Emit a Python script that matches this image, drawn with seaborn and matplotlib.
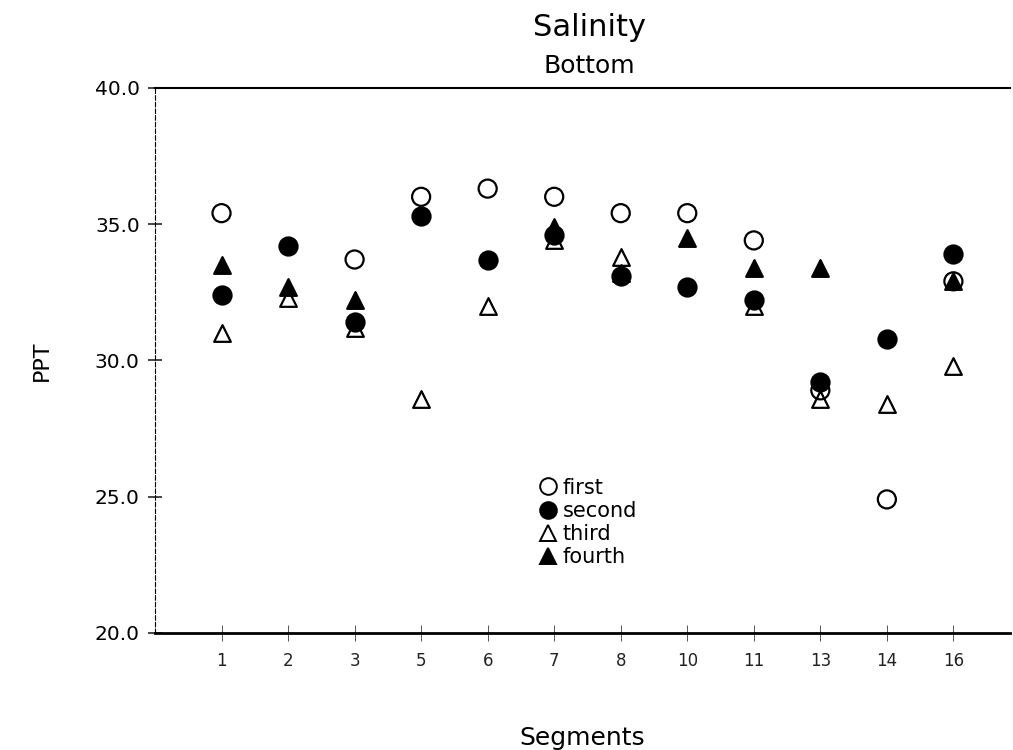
import numpy as np
import pandas as pd
import seaborn as sns
import matplotlib
matplotlib.use("Agg")
import matplotlib.pyplot as plt
from matplotlib.lines import Line2D

# -----------------------------
# data
# -----------------------------
segments = ["1", "2", "3", "5", "6", "7", "8", "10", "11", "13", "14", "16"]
first = [35.4, np.nan, 33.7, 36.0, 36.3, 36.0, 35.4, 35.4, 34.4, 28.9, 24.9, 32.9]
second = [32.4, 34.2, 31.4, 35.3, 33.7, 34.6, 33.1, 32.7, 32.2, 29.2, 30.8, 33.9]
third = [31.0, 32.3, 31.2, 28.6, 32.0, 34.4, 33.8, np.nan, 32.0, 28.6, 28.4, 29.8]
fourth = [33.5, 32.7, 32.2, np.nan, np.nan, 34.9, 33.2, 34.5, 33.4, 33.4, np.nan, 32.9]
series_names = ["first", "second", "third", "fourth"]

df = pd.DataFrame({"Segment": segments, "first": first, "second": second,
                   "third": third, "fourth": fourth})

sns.set_style("white")
plt.rcParams["font.family"] = ["DejaVu Sans"]
plt.rcParams["text.color"] = "black"

fig = plt.figure(figsize=(10.13, 7.5), dpi=100)
ax = fig.add_axes([0.153, 0.156, 0.844, 0.727])

# marker styles per series: (marker, face, size)
styles = {
    "third": ("^", "white", 12),
    "second": ("o", "black", 13),
    "fourth": ("^", "black", 12),
    "first": ("o", "none", 13),
}

for name in ["third", "second", "fourth", "first"]:
    mk, face, sz = styles[name]
    sns.stripplot(data=df, x="Segment", y=name, order=segments, jitter=False,
                  marker=mk, color=face, edgecolor="black", linewidth=1.6,
                  size=sz, ax=ax, zorder=3)

ax.set_ylim(20, 40)
ax.set_xlim(-1, 11.85)
ax.set_yticks([20, 25, 30, 35, 40])
ax.set_yticklabels([f"{v:.1f}" for v in [20, 25, 30, 35, 40]], fontsize=14.5)
ax.set_xticks(range(len(segments)))
ax.set_xticklabels(segments, fontsize=12, color="#222222")

ax.spines["right"].set_visible(False)
ax.spines["top"].set_linewidth(1.5)
ax.spines["bottom"].set_linewidth(2)
ax.spines["left"].set_linewidth(0.8)
ax.spines["left"].set_linestyle((0, (4, 2)))
for s in ["top", "bottom", "left"]:
    ax.spines[s].set_color("black")

ax.tick_params(axis="y", direction="inout", length=10, width=1.2, pad=6, left=True,
               labelcolor="black")
ax.tick_params(axis="x", direction="inout", length=12, width=0.7, pad=8,
               bottom=True, colors="#555555", labelcolor="#222222")

ax.set_xlabel("Segments", fontsize=18, labelpad=40, color="black")
ax.set_ylabel("PPT", fontsize=16, labelpad=31, color="black")

fig.text(0.582, 0.963, "Salinity", ha="center", va="center", fontsize=22)
fig.text(0.582, 0.912, "Bottom", ha="center", va="center", fontsize=18)

handles = []
for name in series_names:
    mk, face, sz = styles[name]
    mfc = "white" if face == "none" else face
    handles.append(Line2D([], [], linestyle="none", marker=mk, markersize=sz - 1,
                          markerfacecolor=mfc, markeredgecolor="black",
                          markeredgewidth=1.4))
ax.legend(handles, series_names, loc="upper left", bbox_to_anchor=(0.44, 0.30),
          frameon=False, fontsize=15, handlelength=0.8, handletextpad=0.3,
          labelspacing=0.15, borderaxespad=0)

fig.savefig("out.png", dpi=100)
